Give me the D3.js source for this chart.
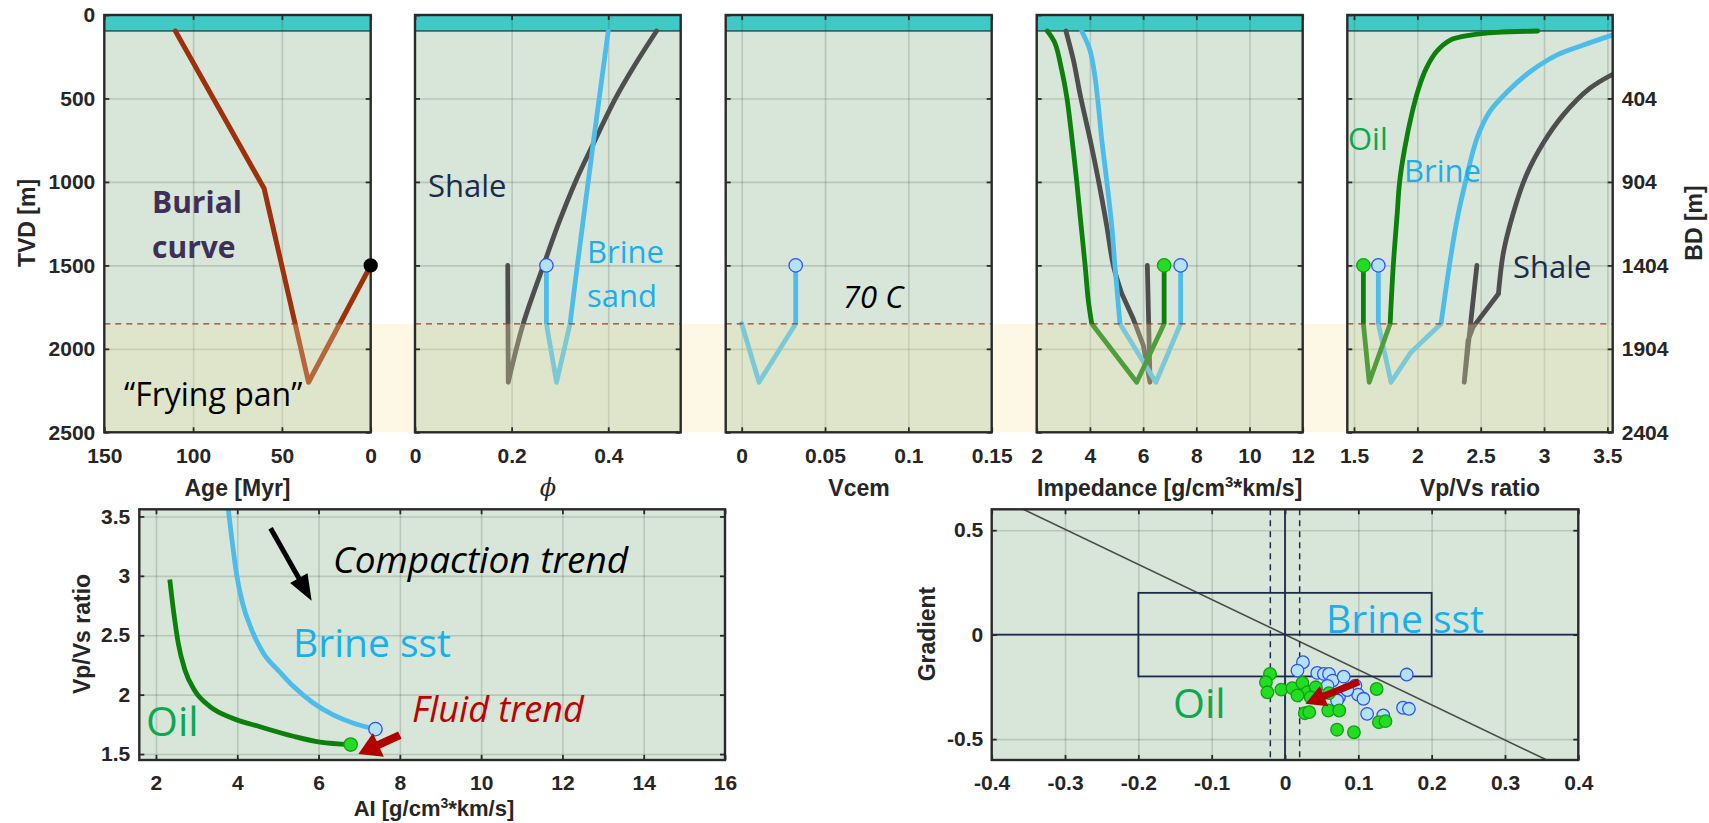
<!DOCTYPE html>
<html><head><meta charset="utf-8">
<script src="https://cdn.jsdelivr.net/npm/d3@7"></script>
<style>body{margin:0;background:#fff}svg{display:block}</style>
</head><body><svg id="c" width="1709" height="823"></svg>
<script>
// ---------------- DATA ----------------
const depthTicks = [0, 500, 1000, 1500, 2000, 2500];
const bdTickLabels = ["404", "904", "1404", "1904", "2404"];
const waterDepth = 96;
const panDepth = 1850;

const ageTicks = [150, 100, 50, 0];
const burialAge = [110, 60, 35, 0];
const burialDepth = [96, 1040, 2200, 1500];
const presentAge = 0, presentDepth = 1500;

const phiTicks = [0, 0.2, 0.4];
const shalePhi = [0.50, 0.455, 0.415, 0.37, 0.332, 0.297, 0.266, 0.224, 0.193, 0.192];
const shalePhiDepth = [96, 300, 500, 766, 1000, 1250, 1500, 1850, 2200, 1500];
const brinePhi = [0.40, 0.369, 0.336, 0.321, 0.293, 0.272, 0.272];
const brinePhiDepth = [96, 766, 1500, 1850, 2200, 1850, 1500];

const vcemTicks = [0, 0.05, 0.1, 0.15];
const vcem = [0, 0.0104, 0.0324, 0.0324];
const vcemDepth = [1850, 2200, 1850, 1500];

const impTicks = [2, 4, 6, 8, 10, 12];
const oilImp = [2.40, 2.69, 2.94, 3.13, 3.29, 3.50, 3.63, 3.82, 3.94, 4.07, 5.76, 6.79, 6.79];
const oilImpDepth = [96, 170, 330, 490, 690, 990, 1200, 1500, 1710, 1850, 2200, 1850, 1500];
const shaleImp = [3.10, 3.38, 3.65, 4.0, 4.32, 4.63, 4.88, 5.20, 5.63, 6.01, 6.26, 6.16];
const shaleImpDepth = [96, 270, 490, 740, 990, 1260, 1500, 1670, 1820, 1980, 2200, 1500];
const brineImp = [3.69, 4.0, 4.19, 4.33, 4.44, 4.63, 4.82, 4.94, 5.13, 6.48, 7.41, 7.41];
const brineImpDepth = [96, 210, 370, 560, 740, 990, 1260, 1500, 1850, 2200, 1850, 1500];

const vpvsTicks = [1.5, 2, 2.5, 3, 3.5];
const oilVpVs = [2.95, 2.63, 2.42, 2.26, 2.15, 2.07, 2.01, 1.96, 1.90, 1.86, 1.84, 1.81, 1.785, 1.62, 1.574, 1.574];
const oilVpVsDepth = [96, 104, 120, 150, 220, 320, 440, 580, 800, 1000, 1200, 1500, 1850, 2200, 1850, 1500];
const brineVpVs = [3.58, 3.31, 3.10, 2.89, 2.71, 2.57, 2.47, 2.38, 2.31, 2.245, 2.187, 1.95, 1.792, 1.692, 1.692];
const brineVpVsDepth = [110, 180, 240, 340, 460, 580, 740, 1000, 1240, 1540, 1850, 2020, 2200, 1850, 1500];
const shaleVpVs = [3.58, 3.36, 3.15, 3.0, 2.86, 2.76, 2.68, 2.64, 2.44, 2.40, 2.37, 2.47];
const shaleVpVsDepth = [340, 440, 600, 760, 960, 1180, 1420, 1670, 1870, 1950, 2200, 1500];

// bottom-left: AI vs Vp/Vs
const aiTicks = [2, 4, 6, 8, 10, 12, 14, 16];
const ratioTicks = [1.5, 2, 2.5, 3, 3.5];
const brineTrendAI = [3.78, 3.86, 3.99, 4.13, 4.35, 4.64, 5.05, 5.38, 5.87, 6.36, 6.86, 7.40];
const brineTrendVpVs = [3.56, 3.33, 3.0, 2.77, 2.55, 2.35, 2.19, 2.07, 1.93, 1.83, 1.76, 1.71];
const oilTrendAI = [2.34, 2.43, 2.55, 2.71, 2.96, 3.33, 3.90, 4.56, 5.38, 6.04, 6.79];
const oilTrendVpVs = [2.97, 2.71, 2.43, 2.21, 2.03, 1.90, 1.80, 1.73, 1.65, 1.60, 1.58];
const compactionArrow = [[4.82, 3.40], [5.83, 2.79]];
const fluidArrow = [[8.0, 1.66], [6.98, 1.50]];

// bottom-right: AVO intercept vs gradient
const avoTicksX = [-0.4, -0.3, -0.2, -0.1, 0, 0.1, 0.2, 0.3, 0.4];
const avoTicksY = [-0.5, 0, 0.5];
const brineI = [0.0245, 0.017, 0.044, 0.053, 0.060, 0.065, 0.080, 0.096, 0.0996, 0.107, 0.112, 0.134, 0.161, 0.169, 0.166, 0.0736, 0.071, 0.085, 0.058];
const brineG = [-0.132, -0.172, -0.183, -0.188, -0.188, -0.220, -0.201, -0.244, -0.287, -0.307, -0.379, -0.387, -0.350, -0.355, -0.191, -0.299, -0.315, -0.265, -0.245];
const oilI = [-0.0205, -0.026, -0.024, -0.005, 0.010, 0.0237, 0.0305, 0.017, 0.042, 0.027, 0.033, 0.059, 0.074, 0.071, 0.094, 0.125, 0.128, 0.137, 0.035, 0.060];
const oilG = [-0.188, -0.228, -0.276, -0.263, -0.256, -0.231, -0.276, -0.291, -0.252, -0.376, -0.371, -0.363, -0.363, -0.455, -0.467, -0.260, -0.419, -0.414, -0.300, -0.280];
const boxI = [-0.2, 0.2], boxG = [-0.2, 0.2];
const cutoffI = [-0.02, 0.02];
const trendLineI = [-0.357, 0.357], trendLineG = [0.6, -0.6];
const avoArrow = [[0.101, -0.225], [0.028, -0.331]];

// ---------------- STYLE ----------------
const COL = {
  bg: "#d7e6d8", teal: "#3fcac5", frame: "#2a2a2a", grid: "rgba(40,40,40,0.17)",
  oil: "#0c7f0c", brine: "#4dbcea", shale: "#4e4e4e", burial: "#9e300c",
  navy: "#1c2b4a", oilText: "#0aa84f", brineText: "#1aaeee", red: "#c00000",
  markOilFill: "#22dd22", markOilStroke: "#11a011", markBrineFill: "#b3e2f7", markBrineStroke: "#3050f0"
};
const boldFont = "'Liberation Sans', Arial, sans-serif";
const annFont = "'Open Sans', sans-serif";
const TICK_FS = 21, TITLE_FS = 23, LW = 4.8;
const fmt = d => String(d);

const svg = d3.select("#c");
const defs = svg.append("defs");

// ---------------- TOP PANELS ----------------
const yTop = d3.scaleLinear().domain([0, 2500]).range([15, 432.3]);
const panels = [
  { x0: 104.3, x1: 370.7, domain: [150, 0], ticks: ageTicks },
  { x0: 415, x1: 680.7, domain: [0, 0.55], ticks: phiTicks },
  { x0: 725.7, x1: 991.7, domain: [-0.0096, 0.15], ticks: vcemTicks },
  { x0: 1036.7, x1: 1302.7, domain: [2, 12], ticks: impTicks },
  { x0: 1347.3, x1: 1612.7, domain: [1.447, 3.542], ticks: vpvsTicks }
];
const bandRect = svg.append("g");
const gTop = svg.append("g");
const overlayG = svg.append("g");
const topFront = svg.append("g");

function styleAxis(sel, size) {
  sel.select(".domain").remove();
  sel.selectAll(".tick line").attr("stroke", COL.frame).attr("stroke-width", 1.8);
  sel.selectAll(".tick text").attr("font-family", boldFont).attr("font-weight", "bold")
    .attr("font-size", size || TICK_FS).attr("fill", "#262626");
}
function styleGrid(sel) {
  sel.select(".domain").remove();
  sel.selectAll(".tick line").attr("stroke", COL.grid).attr("stroke-width", 1.6);
  sel.selectAll(".tick text").remove();
}

const xs = [];
panels.forEach((p, i) => {
  const x = d3.scaleLinear().domain(p.domain).range([p.x0, p.x1]);
  xs.push(x);
  const w = p.x1 - p.x0, h = 432.3 - 15;
  const clipId = "clipTop" + i;
  defs.append("clipPath").attr("id", clipId).append("rect").attr("x", p.x0).attr("y", 15).attr("width", w).attr("height", h);
  const g = gTop.append("g");
  g.append("rect").attr("x", p.x0).attr("y", 15).attr("width", w).attr("height", h).attr("fill", COL.bg);
  g.append("rect").attr("x", p.x0).attr("y", yTop(0)).attr("width", w).attr("height", yTop(waterDepth) - yTop(0)).attr("fill", COL.teal);
  g.append("line").attr("x1", p.x0).attr("x2", p.x1).attr("y1", yTop(waterDepth)).attr("y2", yTop(waterDepth)).attr("stroke", "#111").attr("stroke-width", 1.2);
  g.append("g").attr("transform", `translate(0,432.3)`).call(d3.axisBottom(x).tickValues(p.ticks.filter(t => x(t) > p.x0 + 2 && x(t) < p.x1 - 2)).tickSize(-h)).call(styleGrid);
  g.append("g").attr("transform", `translate(${p.x0},0)`).call(d3.axisLeft(yTop).tickValues([500, 1000, 1500, 2000]).tickSize(-w)).call(styleGrid);
  p.g = g; p.clip = clipId; p.w = w; p.h = h;
  overlayG.append("rect").attr("x", p.x0).attr("y", yTop(panDepth)).attr("width", w)
    .attr("height", yTop(2500) - yTop(panDepth)).attr("fill", "rgb(240,228,170)").attr("opacity", 0.3);
});

function topPath(x, vals, deps, k) {
  const pts = vals.map((v, i) => [x(v), yTop(deps[i])]);
  let d = "";
  if (k > 0) d += d3.line().curve(d3.curveCatmullRom.alpha(0.5))(pts.slice(0, k + 1));
  d += d3.line()(pts.slice(Math.max(k, 0)));
  return d;
}
function drawTopLine(pi, vals, deps, color, k, sw) {
  const p = panels[pi];
  p.g.append("path").attr("clip-path", `url(#${p.clip})`).attr("d", topPath(xs[pi], vals, deps, k))
    .attr("fill", "none").attr("stroke", color).attr("stroke-width", sw || LW)
    .attr("stroke-linejoin", "round").attr("stroke-linecap", "round");
}
drawTopLine(0, burialAge, burialDepth, COL.burial, 0, 5);
drawTopLine(1, shalePhi, shalePhiDepth, COL.shale, 8);
drawTopLine(1, brinePhi, brinePhiDepth, COL.brine, 0);
drawTopLine(2, vcem, vcemDepth, COL.brine, 0);
drawTopLine(3, shaleImp, shaleImpDepth, COL.shale, 7);
drawTopLine(3, brineImp, brineImpDepth, COL.brine, 8);
drawTopLine(3, oilImp, oilImpDepth, COL.oil, 9);
drawTopLine(4, shaleVpVs, shaleVpVsDepth, COL.shale, 7);
drawTopLine(4, brineVpVs, brineVpVsDepth, COL.brine, 10);
drawTopLine(4, oilVpVs, oilVpVsDepth, COL.oil, 12);

bandRect.append("rect").attr("x", panels[0].x0).attr("y", yTop(panDepth)).attr("width", panels[4].x1 - panels[0].x0)
  .attr("height", yTop(2500) - yTop(panDepth)).attr("fill", "#fdf7e6");

panels.forEach((p, i) => {
  const x = xs[i];
  const g = topFront.append("g");
  g.append("line").attr("x1", p.x0).attr("x2", p.x1).attr("y1", yTop(panDepth)).attr("y2", yTop(panDepth))
    .attr("stroke", "#a8382a").attr("stroke-width", 1.3).attr("stroke-dasharray", "6,5");
  g.append("rect").attr("x", p.x0).attr("y", 15).attr("width", p.w).attr("height", p.h)
    .attr("fill", "none").attr("stroke", COL.frame).attr("stroke-width", 2.4);
  g.append("g").attr("transform", `translate(0,432.3)`).call(d3.axisBottom(x).tickValues(p.ticks).tickSize(-5).tickPadding(16).tickFormat(fmt)).call(styleAxis);
  g.append("g").attr("transform", `translate(0,15)`).call(d3.axisTop(x).tickValues(p.ticks).tickSize(-5).tickFormat("")).call(styleAxis);
  const la = g.append("g").attr("transform", `translate(${p.x0},0)`).call(d3.axisLeft(yTop).tickValues(depthTicks).tickSize(-5).tickPadding(9).tickFormat(fmt));
  styleAxis(la);
  if (i !== 0) la.selectAll(".tick text").remove();
  const ra = g.append("g").attr("transform", `translate(${p.x1},0)`).call(d3.axisRight(yTop).tickValues([500, 1000, 1500, 2000, 2500]).tickSize(-5).tickPadding(9).tickFormat((d, k) => bdTickLabels[k]));
  styleAxis(ra);
  if (i !== 4) ra.selectAll(".tick text").remove();
});

function marker(g, cx, cy, fill, stroke, r) {
  g.append("circle").attr("cx", cx).attr("cy", cy).attr("r", r || 6.7).attr("fill", fill).attr("stroke", stroke).attr("stroke-width", 1.3);
}
marker(topFront, xs[0](presentAge), yTop(presentDepth), "#000", "#000", 6.5);
marker(topFront, xs[1](brinePhi[brinePhi.length - 1]), yTop(1500), COL.markBrineFill, COL.markBrineStroke);
marker(topFront, xs[2](vcem[vcem.length - 1]), yTop(1500), COL.markBrineFill, COL.markBrineStroke);
marker(topFront, xs[3](oilImp[oilImp.length - 1]), yTop(1500), COL.markOilFill, COL.markOilStroke);
marker(topFront, xs[3](brineImp[brineImp.length - 1]), yTop(1500), COL.markBrineFill, COL.markBrineStroke);
marker(topFront, xs[4](oilVpVs[oilVpVs.length - 1]), yTop(1500), COL.markOilFill, COL.markOilStroke);
marker(topFront, xs[4](brineVpVs[brineVpVs.length - 1]), yTop(1500), COL.markBrineFill, COL.markBrineStroke);

function txt(g, x, y, s, o) {
  o = o || {};
  const t = g.append("text").attr("x", x).attr("y", y).text(s)
    .attr("font-family", o.family || annFont).attr("font-size", o.size || 30)
    .attr("fill", o.fill || "#000").attr("text-anchor", o.anchor || "start");
  if (o.weight) t.attr("font-weight", o.weight);
  if (o.italic) t.attr("font-style", "italic");
  if (o.rotate) t.attr("transform", `rotate(-90,${x},${y})`);
  return t;
}
const title = { family: boldFont, weight: "bold", size: TITLE_FS, anchor: "middle", fill: "#262626" };
const T = svg.append("g");
txt(T, 27, 223, "TVD [m]", Object.assign({ rotate: true }, title)).attr("dy", "0.35em");
txt(T, 1694, 223, "BD [m]", Object.assign({ rotate: true }, title)).attr("dy", "0.35em");
txt(T, 237.5, 496, "Age [Myr]", title);
txt(T, 548, 496, "ϕ", { family: "'DejaVu Serif', serif", size: 24, anchor: "middle", italic: true, fill: "#262626" });
txt(T, 859, 496, "Vcem", title);
const imp = txt(T, 1169.7, 496, "", title);
imp.append("tspan").text("Impedance [g/cm");
imp.append("tspan").text("3").attr("font-size", 15).attr("dy", -9);
imp.append("tspan").text("*km/s]").attr("dy", 9);
txt(T, 1480, 496, "Vp/Vs ratio", title);

txt(T, 152, 213, "Burial", { weight: "bold", fill: "#3d2f57", size: 30 });
txt(T, 152, 258, "curve", { weight: "bold", fill: "#3d2f57", size: 30 });
txt(T, 124, 406, "“Frying pan”", { size: 32 });
txt(T, 428, 197, "Shale", { fill: COL.navy, size: 31 });
txt(T, 587, 263, "Brine", { fill: COL.brineText, size: 31 });
txt(T, 587, 307, "sand", { fill: COL.brineText, size: 31 });
txt(T, 843, 308, "70 C", { italic: true, size: 31 });
txt(T, 1348, 150, "Oil", { fill: COL.oilText, size: 31 });
txt(T, 1404, 182, "Brine", { fill: COL.brineText, size: 31 });
txt(T, 1513, 278, "Shale", { fill: COL.navy, size: 31 });

function arrow(g, x1, y1, x2, y2, color, sw, hl, hw) {
  const dx = x2 - x1, dy = y2 - y1, L = Math.hypot(dx, dy), ux = dx / L, uy = dy / L;
  const bx = x2 - ux * hl, by = y2 - uy * hl;
  g.append("line").attr("x1", x1).attr("y1", y1).attr("x2", bx + ux * 3).attr("y2", by + uy * 3)
    .attr("stroke", color).attr("stroke-width", sw);
  g.append("path").attr("d", `M${x2},${y2}L${bx - uy * hw / 2},${by + ux * hw / 2}L${bx + uy * hw / 2},${by - ux * hw / 2}Z`).attr("fill", color);
}

// ---------------- BOTTOM LEFT ----------------
{
  const x0 = 139.3, x1 = 725, y0 = 509.3, y1 = 760, w = x1 - x0, h = y1 - y0;
  const x = d3.scaleLinear().domain([1.59, 16]).range([x0, x1]);
  const y = d3.scaleLinear().domain([1.45, 3.56]).range([y1, y0]);
  defs.append("clipPath").attr("id", "clipBL").append("rect").attr("x", x0).attr("y", y0).attr("width", w).attr("height", h);
  const g = svg.append("g");
  g.append("rect").attr("x", x0).attr("y", y0).attr("width", w).attr("height", h).attr("fill", COL.bg);
  g.append("g").attr("transform", `translate(0,${y1})`).call(d3.axisBottom(x).tickValues(aiTicks.filter(t => t < 16)).tickSize(-h)).call(styleGrid);
  g.append("g").attr("transform", `translate(${x0},0)`).call(d3.axisLeft(y).tickValues(ratioTicks).tickSize(-w)).call(styleGrid);
  const cg = g.append("g").attr("clip-path", "url(#clipBL)");
  const ln = (a, b) => d3.line().x((d, i) => x(a[i])).y((d, i) => y(b[i])).curve(d3.curveMonotoneX)(a);
  cg.append("path").attr("d", ln(brineTrendAI, brineTrendVpVs)).attr("fill", "none").attr("stroke", COL.brine).attr("stroke-width", LW);
  cg.append("path").attr("d", ln(oilTrendAI, oilTrendVpVs)).attr("fill", "none").attr("stroke", COL.oil).attr("stroke-width", LW);
  marker(g, x(brineTrendAI[brineTrendAI.length - 1]), y(brineTrendVpVs[brineTrendVpVs.length - 1]), COL.markBrineFill, COL.markBrineStroke);
  marker(g, x(oilTrendAI[oilTrendAI.length - 1]), y(oilTrendVpVs[oilTrendVpVs.length - 1]), COL.markOilFill, COL.markOilStroke);
  g.append("rect").attr("x", x0).attr("y", y0).attr("width", w).attr("height", h).attr("fill", "none").attr("stroke", COL.frame).attr("stroke-width", 2.4);
  g.append("g").attr("transform", `translate(0,${y1})`).call(d3.axisBottom(x).tickValues(aiTicks).tickSize(-5).tickPadding(15).tickFormat(fmt)).call(styleAxis);
  g.append("g").attr("transform", `translate(0,${y0})`).call(d3.axisTop(x).tickValues(aiTicks).tickSize(-5).tickFormat("")).call(styleAxis);
  g.append("g").attr("transform", `translate(${x0},0)`).call(d3.axisLeft(y).tickValues(ratioTicks).tickSize(-5).tickPadding(9).tickFormat(fmt)).call(styleAxis);
  g.append("g").attr("transform", `translate(${x1},0)`).call(d3.axisRight(y).tickValues(ratioTicks).tickSize(-5).tickFormat("")).call(styleAxis);

  arrow(g, x(compactionArrow[0][0]), y(compactionArrow[0][1]), x(compactionArrow[1][0]), y(compactionArrow[1][1]), "#000", 5, 26, 20);
  arrow(g, x(fluidArrow[0][0]), y(fluidArrow[0][1]), x(fluidArrow[1][0]), y(fluidArrow[1][1]), "#b00000", 8, 22, 26);

  txt(g, 82, 634, "Vp/Vs ratio", Object.assign({ rotate: true }, title)).attr("dy", "0.35em");
  const al = txt(g, 434, 816, "", Object.assign({}, title, { size: 22 }));
  al.append("tspan").text("AI [g/cm");
  al.append("tspan").text("3").attr("font-size", 14).attr("dy", -8);
  al.append("tspan").text("*km/s]").attr("dy", 8);

  txt(g, 333, 573, "Compaction trend", { italic: true, size: 37 });
  txt(g, 293, 657, "Brine sst", { fill: COL.brineText, size: 39 });
  txt(g, 146, 736, "Oil", { fill: COL.oilText, size: 41 });
  txt(g, 412, 722, "Fluid trend", { italic: true, fill: COL.red, size: 36 });
}

// ---------------- BOTTOM RIGHT ----------------
{
  const x0 = 991.7, x1 = 1578.3, y0 = 509.3, y1 = 760, w = x1 - x0, h = y1 - y0;
  const x = d3.scaleLinear().domain([-0.4, 0.4]).range([x0, x1]);
  const y = d3.scaleLinear().domain([-0.6, 0.6]).range([y1, y0]);
  defs.append("clipPath").attr("id", "clipBR").append("rect").attr("x", x0).attr("y", y0).attr("width", w).attr("height", h);
  const g = svg.append("g");
  g.append("rect").attr("x", x0).attr("y", y0).attr("width", w).attr("height", h).attr("fill", COL.bg);
  g.append("g").attr("transform", `translate(0,${y1})`).call(d3.axisBottom(x).tickValues(avoTicksX.slice(1, -1)).tickSize(-h)).call(styleGrid);
  g.append("g").attr("transform", `translate(${x0},0)`).call(d3.axisLeft(y).tickValues(avoTicksY).tickSize(-w)).call(styleGrid);
  const cg = g.append("g").attr("clip-path", "url(#clipBR)");
  cg.append("line").attr("x1", x(trendLineI[0])).attr("y1", y(trendLineG[0])).attr("x2", x(trendLineI[1])).attr("y2", y(trendLineG[1]))
    .attr("stroke", "#4a4a4a").attr("stroke-width", 1.6);
  cg.append("line").attr("x1", x0).attr("x2", x1).attr("y1", y(0)).attr("y2", y(0)).attr("stroke", COL.navy).attr("stroke-width", 1.8);
  cg.append("line").attr("x1", x(0)).attr("x2", x(0)).attr("y1", y0).attr("y2", y1).attr("stroke", COL.navy).attr("stroke-width", 1.8);
  cutoffI.forEach(c => cg.append("line").attr("x1", x(c)).attr("x2", x(c)).attr("y1", y0).attr("y2", y1)
    .attr("stroke", COL.navy).attr("stroke-width", 1.5).attr("stroke-dasharray", "6,5"));
  cg.append("rect").attr("x", x(boxI[0])).attr("y", y(boxG[1])).attr("width", x(boxI[1]) - x(boxI[0])).attr("height", y(boxG[0]) - y(boxG[1]))
    .attr("fill", "none").attr("stroke", COL.navy).attr("stroke-width", 1.8);
  txt(g, 1326, 633, "Brine sst", { fill: COL.brineText, size: 39 });
  brineI.forEach((v, i) => marker(cg, x(v), y(brineG[i]), COL.markBrineFill, COL.markBrineStroke, 6.3));
  oilI.forEach((v, i) => marker(cg, x(v), y(oilG[i]), COL.markOilFill, COL.markOilStroke, 6.3));
  arrow(cg, x(avoArrow[0][0]), y(avoArrow[0][1]), x(avoArrow[1][0]), y(avoArrow[1][1]), "#b00000", 7, 20, 22);

  g.append("rect").attr("x", x0).attr("y", y0).attr("width", w).attr("height", h).attr("fill", "none").attr("stroke", COL.frame).attr("stroke-width", 2.4);
  g.append("g").attr("transform", `translate(0,${y1})`).call(d3.axisBottom(x).tickValues(avoTicksX).tickSize(-5).tickPadding(15).tickFormat(fmt)).call(styleAxis);
  g.append("g").attr("transform", `translate(0,${y0})`).call(d3.axisTop(x).tickValues(avoTicksX).tickSize(-5).tickFormat("")).call(styleAxis);
  g.append("g").attr("transform", `translate(${x0},0)`).call(d3.axisLeft(y).tickValues(avoTicksY).tickSize(-5).tickPadding(8.5).tickFormat(fmt)).call(styleAxis);
  g.append("g").attr("transform", `translate(${x1},0)`).call(d3.axisRight(y).tickValues(avoTicksY).tickSize(-5).tickFormat("")).call(styleAxis);

  txt(g, 927, 634, "Gradient", Object.assign({ rotate: true }, title)).attr("dy", "0.35em");
  txt(g, 1173, 718, "Oil", { fill: COL.oilText, size: 41 });
}
</script></body></html>
